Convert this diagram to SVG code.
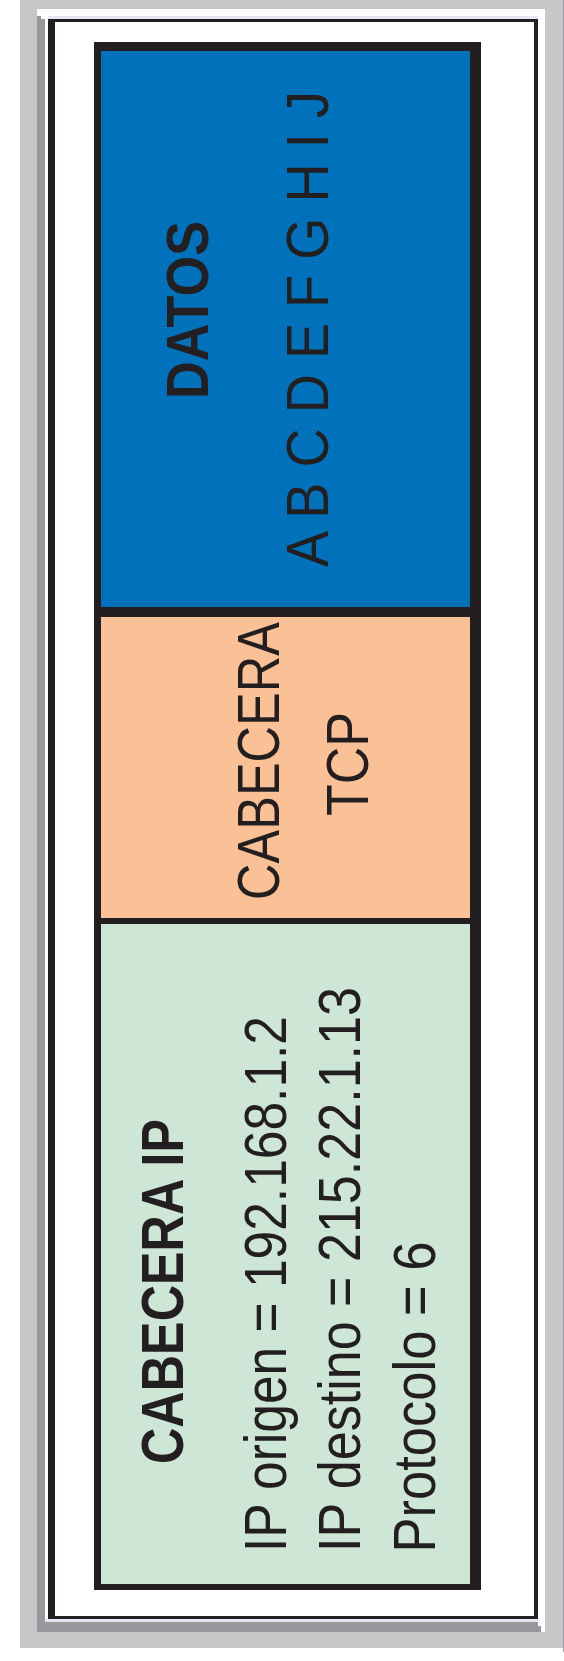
<svg xmlns="http://www.w3.org/2000/svg" width="564" height="1661" viewBox="0 0 564 1661">
<style>
.t{font-family:"Liberation Sans",Arial,sans-serif;font-size:60px;fill:#231f20;text-anchor:middle}
.b{font-weight:bold}
.s{text-anchor:start}
</style>
<rect width="564" height="1661" fill="#ffffff"/>
<g id="background">
<rect x="20" y="0" width="544" height="1648" fill="#c6c7c9"/>
<rect x="563" y="0" width="1" height="1652" fill="#97989b"/>
<rect x="37" y="9" width="508" height="1623" fill="#ffffff"/>
<rect x="37" y="16" width="4" height="4" fill="#97989b"/>
<rect x="37" y="19" width="504" height="1613" fill="#97989b"/>
<rect x="538" y="19" width="3" height="1607" fill="#ffffff"/>
<rect x="45" y="16" width="493" height="1606" fill="#e6e7f2"/>
<rect x="45" y="16" width="3" height="1603" fill="#ffffff"/>
<rect x="48" y="19" width="490" height="1600" fill="#231f20"/>
<rect x="55" y="22" width="479" height="1594" fill="#ffffff"/>
<rect x="94" y="42" width="387" height="1548" fill="#231f20"/>
</g>
<g id="datos">
<rect x="101" y="51" width="369" height="556" fill="#0071bb"/>
<text class="t b" transform="translate(208,310) rotate(-90)" textLength="178" lengthAdjust="spacingAndGlyphs">DATOS</text>
<text class="t" transform="translate(328,329) rotate(-90)" textLength="476" lengthAdjust="spacingAndGlyphs">A B C D E F G H I J</text>
</g>
<g id="cabecera-tcp">
<rect x="101" y="617" width="369" height="301" fill="#f9c195"/>
<text class="t" transform="translate(279,761) rotate(-90)" textLength="278" lengthAdjust="spacingAndGlyphs">CABECERA</text>
<text class="t" transform="translate(368,764) rotate(-90)" textLength="104" lengthAdjust="spacingAndGlyphs">TCP</text>
</g>
<g id="cabecera-ip">
<rect x="101" y="924" width="369" height="660" fill="#cde6d6"/>
<text class="t b" transform="translate(183,1291.5) rotate(-90)" textLength="345" lengthAdjust="spacingAndGlyphs">CABECERA IP</text>
<text class="t" transform="translate(286,1284) rotate(-90)" textLength="536" lengthAdjust="spacingAndGlyphs">IP origen = 192.168.1.2</text>
<text class="t" transform="translate(360,1269.5) rotate(-90)" textLength="565" lengthAdjust="spacingAndGlyphs">IP destino = 215.22.1.13</text>
<text class="t" transform="translate(435,1397) rotate(-90)" textLength="311" lengthAdjust="spacingAndGlyphs">Protocolo = 6</text>
</g>
<g id="connectors"></g>
</svg>
